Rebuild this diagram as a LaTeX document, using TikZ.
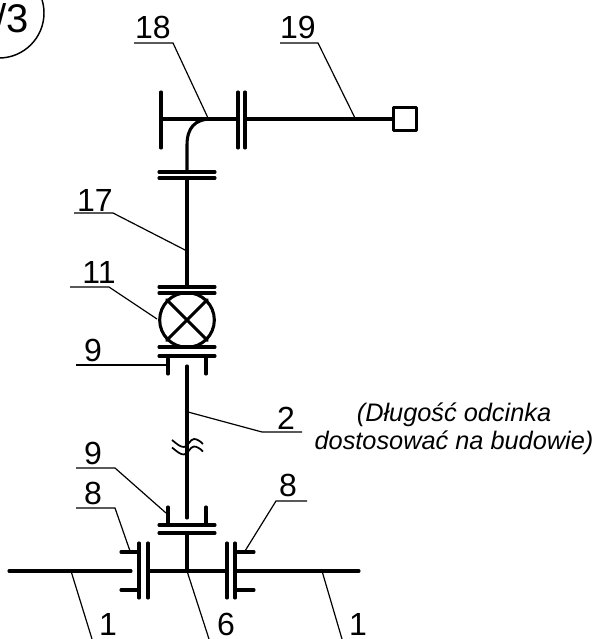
\documentclass[tikz,border=0pt]{standalone}
\usepackage{fontspec}
\setmainfont{Liberation Sans}
\tikzset{
	pipe/.style={line width=2.3pt, line cap=round},
	leader/.style={line width=0.9pt},
	breakmark/.style={line width=1.3pt},
	num/.style={font=\fontsize{24}{24}\selectfont, inner sep=0pt},
	note/.style={font=\fontsize{19}{21}\selectfont\itshape, align=center, inner sep=0pt}
}
\begin{document}
\begin{tikzpicture}[x=0.75pt, y=-0.75pt]
	\useasboundingbox (0,0) rectangle (594,639);
	\clip (0,0) rectangle (594,639);
	
	% === POINTS ON THE PIPES ===
	\coordinate (mainL) at (9,571);
	\coordinate (mainLend) at (131,571);
	\coordinate (tee) at (187,571);
	\coordinate (mainM) at (148,571);
	\coordinate (mainMend) at (227,571);
	\coordinate (mainR) at (235,571);
	\coordinate (mainRend) at (359,571);
	\coordinate (stubTop) at (187,533);
	\coordinate (riserBot) at (187,518);
	\coordinate (riserTop) at (187,366);
	\coordinate (upperBot) at (187,287);
	\coordinate (upperTop) at (187,178);
	\coordinate (elbowBot) at (187,172);
	\coordinate (elbowEnd) at (211,119);
	\coordinate (teeBar) at (161,119);
	\coordinate (teeEnd) at (238,119);
	\coordinate (branch) at (245,119);
	
	% === PIPES ===
	\draw[pipe] (mainL) -- (mainLend);
	\draw[pipe] (mainM) -- (mainMend);
	\draw[pipe] (mainR) -- (mainRend);
	\draw[pipe] (tee) -- (stubTop);
	\draw[pipe] (riserBot) -- (riserTop);
	\draw[pipe] (upperBot) -- (upperTop);
	\draw[pipe] (elbowBot) -- (187,145) .. controls (187,128) and (195,119) .. (elbowEnd);
	\draw[pipe] (teeBar) -- (teeEnd);
	
	% Flange pairs, horizontal
	\foreach \yy in {172,178,287,293,347,356,525,533}
		\draw[pipe] (159,\yy) -- (215,\yy);
	% Flange pairs, vertical
	\foreach \xx in {139,148,227,235}
		\draw[pipe] (\xx,543) -- (\xx,598);
	\foreach \xx in {238,245,161}
		\draw[pipe] (\xx,92) -- (\xx,148);
	% Sockets
	\foreach \xx in {168,206} {
		\draw[pipe] (\xx,356) -- (\xx,374);
		\draw[pipe] (\xx,507) -- (\xx,525);
	}
	\foreach \yy in {552,590} {
		\draw[pipe] (121,\yy) -- (139,\yy);
		\draw[pipe] (235,\yy) -- (254,\yy);
	}
	
	% === VALVE AND END CAP ===
	\node[draw, pipe, circle, minimum size=41pt, inner sep=0pt] (valve) at (187,320) {};
	\draw[pipe] (valve.north west) -- (valve.south east);
	\draw[pipe] (valve.north east) -- (valve.south west);
	\node[draw, pipe, line join=round, minimum size=17pt, inner sep=0pt] (cap) at (405,119) {};
	\draw[pipe] (branch) -- (cap);
	
	% Break mark
	\foreach \dy in {0,7.5}
		\draw[breakmark] (172,440+\dy) .. controls (177,444+\dy) and (180,447+\dy) .. (184,447+\dy) .. controls (188,447+\dy) and (190,439+\dy) .. (194,439+\dy) .. controls (197,439+\dy) and (200,441+\dy) .. (203,444+\dy);
	
	% === LABELS ===
	\node[num] (lab18) at (153,27) {18};
	\node[num] (lab19) at (298,27) {19};
	\node[num] (lab17) at (95,200) {17};
	\node[num] (lab11) at (99,272) {11};
	\node[num] (lab9a) at (93,350) {9};
	\node[num] (lab2) at (286,418) {2};
	\node[num] (lab9b) at (93,453) {9};
	\node[num] (lab8a) at (93,493) {8};
	\node[num] (lab8b) at (288,485) {8};
	\node[num] (lab1a) at (108,624) {1};
	\node[num] (lab6) at (226,624) {6};
	\node[num] (lab1b) at (358,624) {1};
	\node[note] (remark) at (454,429) {(Długość odcinka\\dostosować na budowie)};
	
	% Corner mark, cut by the page edge
	\node[circle, draw, line width=1.1pt, minimum size=67.5pt, inner sep=0pt] (mark) at (-1,13) {};
	\node[font=\fontsize{30}{32}\selectfont, inner sep=0pt, anchor=east] (markText) at (29,18) {/3};
	
	% === LEADERS ===
	\draw[leader] (134,43) -- (173,43) -- (208,118);
	\draw[leader] (280,43) -- (318,43) -- (355,118);
	\draw[leader] (74,213) -- (113,213) -- (187,251);
	\draw[leader] (70,287) -- (109,287) -- (157,319);
	\draw[leader] (76,365) -- (168,365);
	\draw[leader] (302,432) -- (262,432) -- (188,412);
	\draw[leader] (76,468) -- (115,468) -- (166,513);
	\draw[leader] (76,508) -- (115,508) -- (130,551);
	\draw[leader] (307,501) -- (276,501) -- (245,551);
	\draw[leader] (71,571) -- (92,639);
	\draw[leader] (tee) -- (209,639);
	\draw[leader] (322,571) -- (342,639);
\end{tikzpicture}
\end{document}
